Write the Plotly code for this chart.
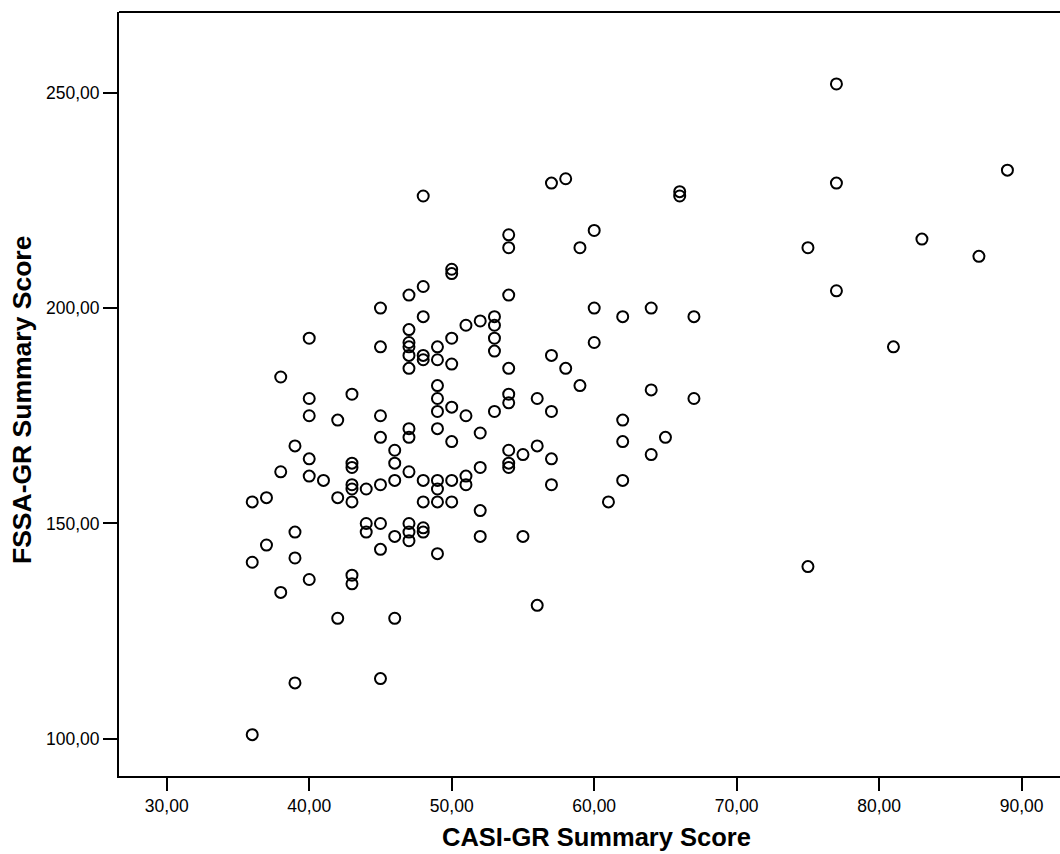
import plotly.graph_objects as go

# CASI-GR (x) and FSSA-GR (y) summary scores, grouped by x value
groups = {
    36: [155, 141, 101],
    37: [156, 145],
    38: [184, 162, 134],
    39: [168, 148, 142, 113],
    40: [193, 179, 175, 165, 161, 137],
    41: [160],
    42: [174, 156, 128],
    43: [180, 164, 163, 159, 158, 155, 138, 136],
    44: [158, 150, 148],
    45: [200, 191, 175, 170, 159, 150, 144, 114],
    46: [167, 164, 160, 147, 128],
    47: [203, 195, 192, 191, 189, 186, 172, 170, 162, 150, 148, 146],
    48: [226, 205, 198, 189, 188, 160, 155, 149, 148],
    49: [191, 188, 182, 179, 176, 172, 160, 158, 155, 143],
    50: [209, 208, 193, 187, 177, 169, 160, 155],
    51: [196, 175, 161, 159],
    52: [197, 171, 163, 153, 147],
    53: [198, 196, 193, 190, 176],
    54: [217, 214, 203, 186, 180, 178, 167, 164, 163],
    55: [166, 147],
    56: [179, 168, 131],
    57: [229, 189, 176, 165, 159],
    58: [230, 186],
    59: [214, 182],
    60: [218, 200, 192],
    61: [155],
    62: [198, 174, 169, 160],
    64: [200, 181, 166],
    65: [170],
    66: [227, 226],
    67: [198, 179],
    75: [214, 140],
    77: [252, 229, 204],
    81: [191],
    83: [216],
    87: [212],
    89: [232],
}
casi = [x for x, ys in groups.items() for _ in ys]
fssa = [y for ys in groups.values() for y in ys]

x_ticks = [30, 40, 50, 60, 70, 80, 90]
y_ticks = [100, 150, 200, 250]
x_title = "CASI-GR Summary Score"
y_title = "FSSA-GR Summary Score"

FONT = "Liberation Sans, Arial, sans-serif"

fig = go.Figure(go.Scatter(
    x=casi, y=fssa, mode="markers",
    marker=dict(symbol="circle-open", size=11, color="black",
                line=dict(color="black", width=2)),
    hoverinfo="x+y",
))

fig.update_layout(
    width=1060, height=854,
    margin=dict(l=119, r=0, t=12, b=78),
    paper_bgcolor="white", plot_bgcolor="white",
    separators=",.",
    showlegend=False,
    font=dict(family=FONT, color="black"),
    xaxis=dict(
        range=[26.65, 92.69], tickvals=x_ticks, tickformat=".2f",
        showgrid=False, zeroline=False,
        showline=True, linecolor="black", linewidth=2,
        ticks="outside", ticklen=13, tickwidth=2, tickcolor="black",
        tickfont=dict(size=17.5, family=FONT, color="black"),
    ),
    yaxis=dict(
        range=[91.4, 268.7], tickvals=y_ticks, tickformat=".2f",
        showgrid=False, zeroline=False,
        showline=True, linecolor="black", linewidth=2,
        ticks="outside", ticklen=14, tickwidth=2, tickcolor="black",
        tickfont=dict(size=17.5, family=FONT, color="black"),
    ),
    shapes=[dict(type="line", xref="paper", yref="paper", x0=0, x1=1, y0=1, y1=1,
                 line=dict(color="black", width=2))],
    annotations=[
        dict(text=x_title, xref="paper", yref="paper",
             x=(596 - 119) / 941, y=-(837 - 776) / 764, xanchor="center", yanchor="middle",
             showarrow=False, font=dict(size=25.5, family=FONT, color="black", weight="bold")),
        dict(text=y_title, xref="paper", yref="paper",
             x=(22 - 119) / 941, y=(776 - 400) / 764, xanchor="center", yanchor="middle",
             textangle=-90, showarrow=False,
             font=dict(size=26.5, family=FONT, color="black", weight="bold")),
    ],
)

fig.write_html("out.html")
